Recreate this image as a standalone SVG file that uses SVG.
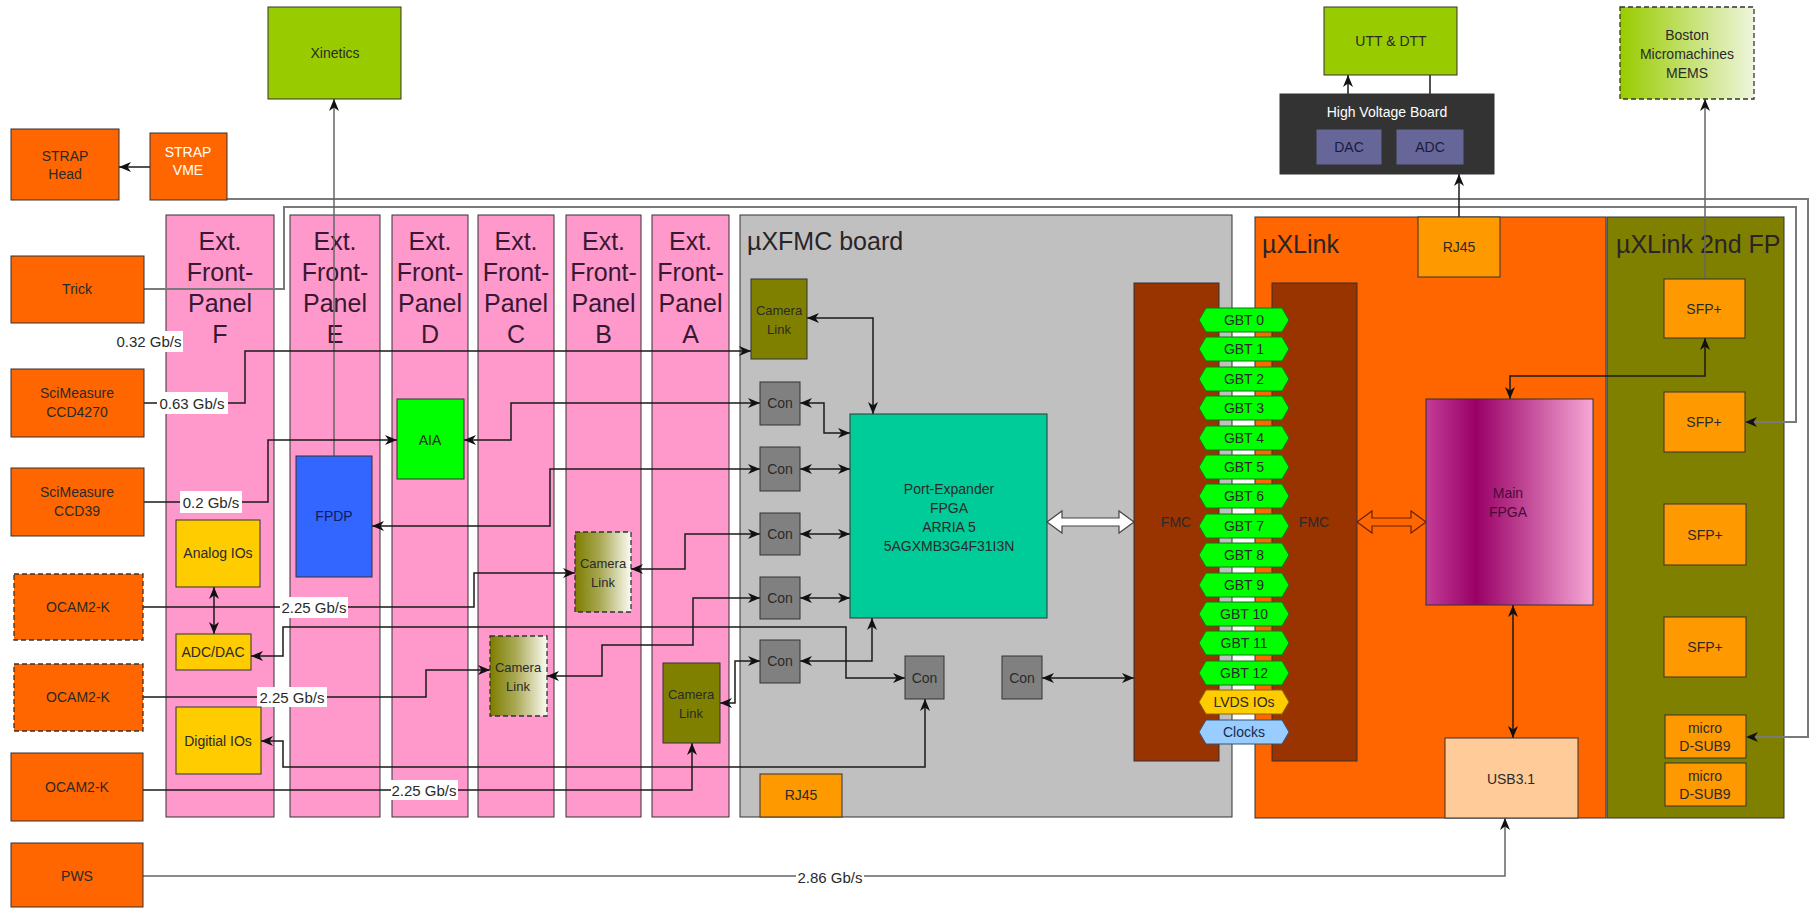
<svg xmlns="http://www.w3.org/2000/svg" width="1810" height="909" viewBox="0 0 1810 909">
<defs>
<style>
.b{stroke:#333;stroke-width:1}
.d{stroke:#333;stroke-width:1.3;stroke-dasharray:5 3}
.t{font-family:"Liberation Sans",Arial,Helvetica,sans-serif;font-size:14px;fill:#2a2a2a;text-anchor:middle;dominant-baseline:central}
.s{font-size:13px}
.w{fill:#fff}
.tt{font-family:"Liberation Sans",Arial,Helvetica,sans-serif;font-size:25px;fill:#2a2428}
.pt{font-family:"Liberation Sans",Arial,Helvetica,sans-serif;font-size:25px;fill:#3a1832;text-anchor:middle}
.c{fill:none;stroke:#1a1a1a;stroke-width:1.5}
.g{fill:none;stroke:#7a7a7a;stroke-width:2}
.gl{fill:none;stroke:#666;stroke-width:1.5}
.ar{marker-end:url(#ah)}
.ar2{marker-start:url(#ah);marker-end:url(#ah)}
.org{fill:#ff6600}
.pink{fill:#ff99cc}
.yg{fill:#99cc00}
.amb{fill:#ff9900}
.yel{fill:#ffcc00}
.con{fill:#808080}
.ol{fill:#808000}
.gbt{fill:#00ff00;stroke:#117711;stroke-width:1}
.lbl{fill:#fff}
</style>
<marker id="ah" viewBox="0 0 12 10" refX="12" refY="5" markerWidth="12" markerHeight="10" markerUnits="userSpaceOnUse" orient="auto-start-reverse"><path d="M0,0 L12,5 L0,10 L3.5,5 z" fill="#111"/></marker>
<linearGradient id="gMain" x1="0" y1="0" x2="1" y2="0"><stop offset="0" stop-color="#c23d97"/><stop offset="0.3" stop-color="#990066"/><stop offset="1" stop-color="#f6a8d6"/></linearGradient>
<linearGradient id="gCL" x1="0" y1="0" x2="1" y2="0"><stop offset="0" stop-color="#7d7d00"/><stop offset="0.45" stop-color="#a9a955"/><stop offset="1" stop-color="#fbfbf3"/></linearGradient>
<linearGradient id="gBos" x1="0" y1="0" x2="1" y2="0"><stop offset="0" stop-color="#99cc00"/><stop offset="1" stop-color="#eef5dc"/></linearGradient>
</defs>
<rect width="1810" height="909" fill="#fff"/>

<!-- containers -->
<g id="panelF"><rect class="b pink" x="166" y="215" width="108" height="602"/><text class="pt" x="220" y="250">Ext.</text><text class="pt" x="220" y="281">Front-</text><text class="pt" x="220" y="312">Panel</text><text class="pt" x="220" y="343">F</text></g>
<g id="panelE"><rect class="b pink" x="290" y="215" width="90" height="602"/><text class="pt" x="335" y="250">Ext.</text><text class="pt" x="335" y="281">Front-</text><text class="pt" x="335" y="312">Panel</text><text class="pt" x="335" y="343">E</text></g>
<g id="panelD"><rect class="b pink" x="392" y="215" width="76" height="602"/><text class="pt" x="430" y="250">Ext.</text><text class="pt" x="430" y="281">Front-</text><text class="pt" x="430" y="312">Panel</text><text class="pt" x="430" y="343">D</text></g>
<g id="panelC"><rect class="b pink" x="478" y="215" width="76" height="602"/><text class="pt" x="516" y="250">Ext.</text><text class="pt" x="516" y="281">Front-</text><text class="pt" x="516" y="312">Panel</text><text class="pt" x="516" y="343">C</text></g>
<g id="panelB"><rect class="b pink" x="566" y="215" width="75" height="602"/><text class="pt" x="603.5" y="250">Ext.</text><text class="pt" x="603.5" y="281">Front-</text><text class="pt" x="603.5" y="312">Panel</text><text class="pt" x="603.5" y="343">B</text></g>
<g id="panelA"><rect class="b pink" x="652" y="215" width="77" height="602"/><text class="pt" x="690.5" y="250">Ext.</text><text class="pt" x="690.5" y="281">Front-</text><text class="pt" x="690.5" y="312">Panel</text><text class="pt" x="690.5" y="343">A</text></g>
<g id="uxfmc"><rect class="b" fill="#c0c0c0" x="740" y="215" width="492" height="602"/><text class="tt" x="747" y="250">µXFMC board</text></g>
<g id="uxlink"><rect class="b org" x="1255" y="217" width="351" height="601"/><text class="tt" x="1262" y="253">µXLink</text></g>
<g id="uxlink2"><rect class="b ol" x="1607" y="217" width="177" height="601"/><text class="tt" x="1616" y="253">µXLink 2nd FP</text></g>

<!-- connectors -->
<g id="connectors">
<path class="c ar" d="M150,167 H119"/>
<path class="g ar" d="M227,199 H1808 V737 H1746"/>
<path class="g ar" d="M144,289 H284 V207 H1796 V422 H1745"/>
<path class="gl ar" d="M334,456 V99"/>
<path class="c ar" d="M144,403 H245 V351 H751"/>
<path class="c ar" d="M144,502 H268 V440 H397"/>
<path class="c ar2" d="M464,440 H511 V403 H760"/>
<path class="c ar2" d="M372,526 H550 V469 H760"/>
<path class="c ar2" d="M631,569 H685 V534 H760"/>
<path class="c ar" d="M143,607 H474 V573 H575"/>
<path class="c ar2" d="M251,656 H283 V627 H846 V678 H905"/>
<path class="c ar2" d="M214,587 V634"/>
<path class="c ar" d="M143,697 H426 V670 H490"/>
<path class="c ar2" d="M547,676 H602 V645 H693 V598 H760"/>
<path class="c ar2" d="M261,741 H283 V767 H925 V699"/>
<path class="c ar" d="M143,790 H692 V743"/>
<path class="c ar2" d="M720,703 H735 V661 H760"/>
<path class="c ar2" d="M807,318 H873 V414"/>
<path class="c ar2" d="M800,403 H824 V433 H850"/>
<path class="c ar2" d="M800,469 H850"/>
<path class="c ar2" d="M800,534 H850"/>
<path class="c ar2" d="M800,598 H850"/>
<path class="c ar2" d="M800,661 H872 V618"/>
<path class="c ar2" d="M1042,678 H1134"/>
<polygon points="1047,522 1062,511 1062,518 1119,518 1119,511 1134,522 1119,533 1119,526 1062,526 1062,533" fill="#fff" stroke="#444" stroke-width="1.2"/>
<polygon points="1357,522 1372,511 1372,518 1411,518 1411,511 1426,522 1411,533 1411,526 1372,526 1372,533" fill="#ff6600" stroke="#662200" stroke-width="1.2"/>
<path class="c ar2" d="M1705,338 V376 H1510 V399"/>
<path class="gl ar" d="M1705,279 V99"/>
<path class="c ar2" d="M1513,605 V738"/>
<path class="gl ar" d="M143,876 H1505 V818"/>
<path class="c ar" d="M1459,217 V174"/>
<path class="c ar" d="M1348,129 V75"/>
<path class="c ar" d="M1430,75 V129"/>
<rect class="lbl" x="115" y="331" width="68" height="21"/><text class="t" style="font-size:15px" x="149" y="341">0.32 Gb/s</text>
<rect class="lbl" x="157" y="392" width="71" height="22"/><text class="t" style="font-size:15px" x="192" y="403">0.63 Gb/s</text>
<rect class="lbl" x="180" y="491" width="62" height="22"/><text class="t" style="font-size:15px" x="211" y="502">0.2 Gb/s</text>
<rect class="lbl" x="280" y="597" width="68" height="21"/><text class="t" style="font-size:15px" x="314" y="607">2.25 Gb/s</text>
<rect class="lbl" x="257" y="687" width="70" height="20"/><text class="t" style="font-size:15px" x="292" y="697">2.25 Gb/s</text>
<rect class="lbl" x="391" y="780" width="67" height="20"/><text class="t" style="font-size:15px" x="424" y="790">2.25 Gb/s</text>
<rect class="lbl" x="796" y="867" width="68" height="20"/><text class="t" style="font-size:15px" x="830" y="877">2.86 Gb/s</text>
</g>

<!-- nodes -->
<g id="xinetics"><rect class="b yg" x="268" y="7" width="133" height="92"/><text class="t" x="335" y="53">Xinetics</text></g>
<g id="uttdtt"><rect class="b yg" x="1324" y="7" width="133" height="68"/><text class="t" x="1391" y="41">UTT &amp; DTT</text></g>
<g id="boston"><rect class="d" fill="url(#gBos)" x="1620" y="7" width="134" height="92"/><text class="t" x="1687" y="35">Boston</text><text class="t" x="1687" y="54">Micromachines</text><text class="t" x="1687" y="73">MEMS</text></g>
<g id="hvboard"><rect class="b" fill="#333" x="1280" y="94" width="214" height="80"/><text class="t w" x="1387" y="112">High Voltage Board</text></g>
<g id="dac"><rect class="b" fill="#666699" x="1316" y="129" width="66" height="36"/><text class="t" fill="#1a1a40" style="fill:#1a1a40" x="1349" y="147">DAC</text></g>
<g id="adc"><rect class="b" fill="#666699" x="1396" y="129" width="68" height="36"/><text class="t" style="fill:#1a1a40" x="1430" y="147">ADC</text></g>

<g id="straphead"><rect class="b org" x="11" y="129" width="108" height="71"/><text class="t" x="65" y="156">STRAP</text><text class="t" x="65" y="174">Head</text></g>
<g id="strapvme"><rect class="b org" x="150" y="133" width="77" height="67"/><text class="t w" x="188" y="152">STRAP</text><text class="t w" x="188" y="170">VME</text></g>
<g id="trick"><rect class="b org" x="11" y="256" width="133" height="67"/><text class="t" x="77" y="289">Trick</text></g>
<g id="ccd4270"><rect class="b org" x="11" y="369" width="133" height="68"/><text class="t" x="77" y="393">SciMeasure</text><text class="t" x="77" y="412">CCD4270</text></g>
<g id="ccd39"><rect class="b org" x="11" y="468" width="133" height="68"/><text class="t" x="77" y="492">SciMeasure</text><text class="t" x="77" y="511">CCD39</text></g>
<g id="ocam1"><rect class="d org" x="14" y="574" width="129" height="66"/><text class="t" x="78" y="607">OCAM2-K</text></g>
<g id="ocam2"><rect class="d org" x="14" y="664" width="129" height="67"/><text class="t" x="78" y="697">OCAM2-K</text></g>
<g id="ocam3"><rect class="b org" x="11" y="753" width="132" height="68"/><text class="t" x="77" y="787">OCAM2-K</text></g>
<g id="pws"><rect class="b org" x="11" y="843" width="132" height="64"/><text class="t" x="77" y="876">PWS</text></g>

<g id="analogios"><rect class="b yel" x="176" y="520" width="84" height="67"/><text class="t" x="218" y="553">Analog IOs</text></g>
<g id="adcdac"><rect class="b yel" x="176" y="634" width="75" height="36"/><text class="t" x="213" y="652">ADC/DAC</text></g>
<g id="digitalios"><rect class="b yel" x="176" y="707" width="85" height="67"/><text class="t" x="218" y="741">Digitial IOs</text></g>
<g id="fpdp"><rect class="b" fill="#3366ff" x="296" y="456" width="76" height="121"/><text class="t" style="fill:#0c1c5c" x="334" y="516">FPDP</text></g>
<g id="aia"><rect class="b" fill="#00ff00" x="397" y="399" width="67" height="80"/><text class="t" x="430" y="440">AIA</text></g>
<g id="clB"><rect class="d" fill="url(#gCL)" x="575" y="532" width="56" height="80"/><text class="t s" x="603" y="563">Camera</text><text class="t s" x="603" y="582">Link</text></g>
<g id="clC"><rect class="d" fill="url(#gCL)" x="490" y="636" width="57" height="80"/><text class="t s" x="518" y="667">Camera</text><text class="t s" x="518" y="686">Link</text></g>
<g id="clA"><rect class="b ol" x="663" y="663" width="57" height="80"/><text class="t s" x="691" y="694">Camera</text><text class="t s" x="691" y="713">Link</text></g>
<g id="clTop"><rect class="b ol" x="751" y="279" width="56" height="80"/><text class="t s" x="779" y="310">Camera</text><text class="t s" x="779" y="329">Link</text></g>
<g id="con1"><rect class="b con" x="760" y="382" width="40" height="43"/><text class="t" x="780" y="403">Con</text></g>
<g id="con2"><rect class="b con" x="760" y="447" width="40" height="44"/><text class="t" x="780" y="469">Con</text></g>
<g id="con3"><rect class="b con" x="760" y="513" width="40" height="42"/><text class="t" x="780" y="534">Con</text></g>
<g id="con4"><rect class="b con" x="760" y="577" width="40" height="42"/><text class="t" x="780" y="598">Con</text></g>
<g id="con5"><rect class="b con" x="760" y="640" width="40" height="43"/><text class="t" x="780" y="661">Con</text></g>
<g id="con6"><rect class="b con" x="905" y="656" width="39" height="43"/><text class="t" x="924.5" y="678">Con</text></g>
<g id="con7"><rect class="b con" x="1002" y="656" width="40" height="43"/><text class="t" x="1022" y="678">Con</text></g>
<g id="rj45a"><rect class="b amb" x="760" y="774" width="82" height="43"/><text class="t" x="801" y="795">RJ45</text></g>
<g id="portexp"><rect class="b" fill="#00cc99" x="850" y="414" width="197" height="204"/><text class="t" x="949" y="489">Port-Expander</text><text class="t" x="949" y="508">FPGA</text><text class="t" x="949" y="527">ARRIA 5</text><text class="t" x="949" y="546">5AGXMB3G4F31I3N</text></g>
<g id="fmcL"><rect class="b" fill="#993300" x="1134" y="283" width="85" height="478"/><text class="t" x="1176" y="522">FMC</text></g>
<g id="fmcR"><rect class="b" fill="#993300" x="1272" y="283" width="85" height="478"/><text class="t" x="1314" y="522">FMC</text></g>
<g id="gbt0"><polygon class="gbt" points="1199,320 1206,308 1282,308 1289,320 1282,332 1206,332"/><text class="t" x="1244" y="320">GBT 0</text></g>
<g id="gbt1"><polygon class="gbt" points="1199,349 1206,337 1282,337 1289,349 1282,361 1206,361"/><text class="t" x="1244" y="349">GBT 1</text></g>
<g id="gbt2"><polygon class="gbt" points="1199,379 1206,367 1282,367 1289,379 1282,391 1206,391"/><text class="t" x="1244" y="379">GBT 2</text></g>
<g id="gbt3"><polygon class="gbt" points="1199,408 1206,396 1282,396 1289,408 1282,420 1206,420"/><text class="t" x="1244" y="408">GBT 3</text></g>
<g id="gbt4"><polygon class="gbt" points="1199,438 1206,426 1282,426 1289,438 1282,450 1206,450"/><text class="t" x="1244" y="438">GBT 4</text></g>
<g id="gbt5"><polygon class="gbt" points="1199,467 1206,455 1282,455 1289,467 1282,479 1206,479"/><text class="t" x="1244" y="467">GBT 5</text></g>
<g id="gbt6"><polygon class="gbt" points="1199,496 1206,484 1282,484 1289,496 1282,508 1206,508"/><text class="t" x="1244" y="496">GBT 6</text></g>
<g id="gbt7"><polygon class="gbt" points="1199,526 1206,514 1282,514 1289,526 1282,538 1206,538"/><text class="t" x="1244" y="526">GBT 7</text></g>
<g id="gbt8"><polygon class="gbt" points="1199,555 1206,543 1282,543 1289,555 1282,567 1206,567"/><text class="t" x="1244" y="555">GBT 8</text></g>
<g id="gbt9"><polygon class="gbt" points="1199,585 1206,573 1282,573 1289,585 1282,597 1206,597"/><text class="t" x="1244" y="585">GBT 9</text></g>
<g id="gbt10"><polygon class="gbt" points="1199,614 1206,602 1282,602 1289,614 1282,626 1206,626"/><text class="t" x="1244" y="614">GBT 10</text></g>
<g id="gbt11"><polygon class="gbt" points="1199,643 1206,631 1282,631 1289,643 1282,655 1206,655"/><text class="t" x="1244" y="643">GBT 11</text></g>
<g id="gbt12"><polygon class="gbt" points="1199,673 1206,661 1282,661 1289,673 1282,685 1206,685"/><text class="t" x="1244" y="673">GBT 12</text></g>
<g id="lvds"><polygon points="1199,702 1206,690 1282,690 1289,702 1282,714 1206,714" fill="#ffcc00" stroke="#886600"/><text class="t" x="1244" y="702">LVDS IOs</text></g>
<g id="clocks"><polygon points="1199,732 1206,720 1282,720 1289,732 1282,744 1206,744" fill="#99ccff" stroke="#335577"/><text class="t" style="fill:#1a2a4a" x="1244" y="732">Clocks</text></g>
<g id="rj45b"><rect class="b amb" x="1418" y="217" width="82" height="60"/><text class="t" x="1459" y="247">RJ45</text></g>
<g id="mainfpga"><rect class="b" fill="url(#gMain)" x="1426" y="399" width="167" height="206"/><text class="t" style="fill:#4a0a38" x="1508" y="493">Main</text><text class="t" style="fill:#4a0a38" x="1508" y="512">FPGA</text></g>
<g id="usb31"><rect class="b" fill="#ffcc99" x="1445" y="738" width="133" height="80"/><text class="t" x="1511" y="779">USB3.1</text></g>
<g id="sfp1"><rect class="b amb" x="1664" y="279" width="81" height="59"/><text class="t" x="1704" y="309">SFP+</text></g>
<g id="sfp2"><rect class="b amb" x="1664" y="392" width="81" height="60"/><text class="t" x="1704" y="422">SFP+</text></g>
<g id="sfp3"><rect class="b amb" x="1664" y="504" width="82" height="61"/><text class="t" x="1705" y="535">SFP+</text></g>
<g id="sfp4"><rect class="b amb" x="1664" y="617" width="82" height="60"/><text class="t" x="1705" y="647">SFP+</text></g>
<g id="dsub1"><rect class="b amb" x="1665" y="715" width="81" height="43"/><text class="t" x="1705" y="728">micro</text><text class="t" x="1705" y="746">D-SUB9</text></g>
<g id="dsub2"><rect class="b amb" x="1665" y="763" width="81" height="43"/><text class="t" x="1705" y="776">micro</text><text class="t" x="1705" y="794">D-SUB9</text></g>
</svg>
